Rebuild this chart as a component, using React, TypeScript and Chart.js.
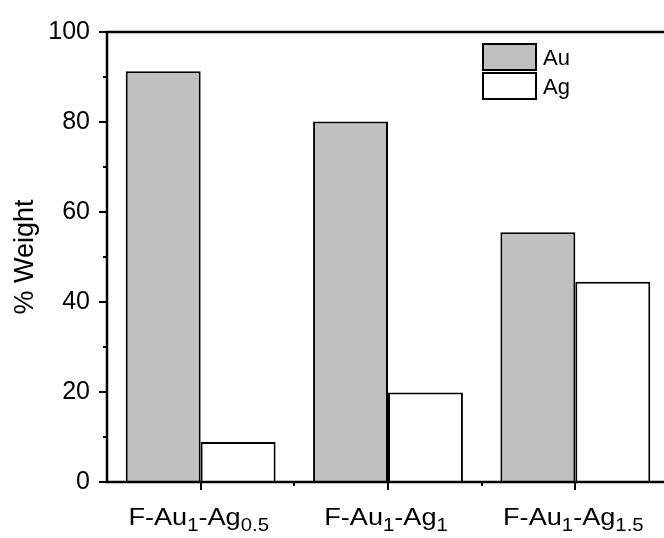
import React, { useEffect, useRef } from "react";
import { Chart, registerables } from "chart.js";

Chart.register(...registerables);

const categories = ["F-Au1-Ag0.5", "F-Au1-Ag1", "F-Au1-Ag1.5"];
const agSubscripts = ["0.5", "1", "1.5"];
const auValues = [91.3, 80.1, 55.5];
const agValues = [8.9, 19.9, 44.5];
const yMajorTicks = [0, 20, 40, 60, 80, 100];
const yMinorTicks = [10, 30, 50, 70, 90];

const FONT = "'Liberation Sans', Arial, sans-serif";

const CANVAS_W = 690;
const CANVAS_H = 538;

const framePlugin = {
  id: "frame",
  afterDatasetsDraw(chart: any) {
    const { ctx, chartArea } = chart;
    const { left, right, top, bottom } = chartArea;
    const y = chart.scales.y;
    const x = chart.scales.x;
    ctx.save();
    ctx.strokeStyle = "#000";
    ctx.lineWidth = 2.5;
    ctx.strokeRect(left, top, right - left, bottom - top);
    // y ticks
    ctx.beginPath();
    ctx.lineWidth = 2;
    yMajorTicks.forEach((v) => {
      const py = Math.round(y.getPixelForValue(v));
      ctx.moveTo(left - 8, py);
      ctx.lineTo(left, py);
    });
    yMinorTicks.forEach((v) => {
      const py = Math.round(y.getPixelForValue(v));
      ctx.moveTo(left - 4, py);
      ctx.lineTo(left, py);
    });
    // x ticks
    categories.forEach((_, i) => {
      const px = Math.round(x.getPixelForValue(i));
      ctx.moveTo(px, bottom);
      ctx.lineTo(px, bottom + 8);
      const pm = Math.round(x.getPixelForValue(i + 0.5));
      if (i < categories.length - 1) {
        ctx.moveTo(pm, bottom);
        ctx.lineTo(pm, bottom + 4);
      }
    });
    ctx.stroke();

    // x labels with subscripts
    const mainSize = 24;
    const subSize = 18;
    const stretch = 1.13;
    categories.forEach((_, i) => {
      const parts: [string, boolean][] = [
        ["F-Au", false],
        ["1", true],
        ["-Ag", false],
        [agSubscripts[i], true],
      ];
      let w = 0;
      parts.forEach(([t, sub]) => {
        ctx.font = `${sub ? subSize : mainSize}px ${FONT}`;
        w += ctx.measureText(t).width;
      });
      const cx = x.getPixelForValue(i);
      ctx.save();
      ctx.translate(cx - (w * stretch) / 2 - 2, 0);
      ctx.scale(stretch, 1);
      let tx = 0;
      ctx.fillStyle = "#000";
      ctx.textBaseline = "alphabetic";
      ctx.textAlign = "left";
      parts.forEach(([t, sub]) => {
        ctx.font = `${sub ? subSize : mainSize}px ${FONT}`;
        ctx.fillText(t, tx, sub ? 531 : 525);
        tx += ctx.measureText(t).width;
      });
      ctx.restore();
    });

    // legend
    const ds = chart.data.datasets;
    const lx = 483;
    const ly = [44, 73];
    ds.forEach((d: any, i: number) => {
      ctx.fillStyle = d.backgroundColor;
      ctx.fillRect(lx, ly[i], 53, 26);
      ctx.lineWidth = 2;
      ctx.strokeStyle = "#000";
      ctx.strokeRect(lx, ly[i], 53, 26);
      ctx.fillStyle = "#000";
      ctx.font = `22px ${FONT}`;
      ctx.textBaseline = "alphabetic";
      ctx.textAlign = "left";
      ctx.fillText(d.label, 543, ly[i] + 21);
    });
    ctx.restore();
  },
};

export default function App() {
  const ref = useRef<HTMLCanvasElement | null>(null);
  useEffect(() => {
    if (!ref.current) return;
    const chart = new Chart(ref.current, {
      type: "bar",
      data: {
        labels: categories,
        datasets: [
          {
            label: "Au",
            data: auValues,
            backgroundColor: "#c0c0c0",
            borderColor: "#000",
            borderWidth: 2,
            barPercentage: 1,
            categoryPercentage: 0.8,
          },
          {
            label: "Ag",
            data: agValues,
            backgroundColor: "#ffffff",
            borderColor: "#000",
            borderWidth: 2,
            barPercentage: 1,
            categoryPercentage: 0.8,
          },
        ],
      },
      options: {
        responsive: false,
        animation: false,
        devicePixelRatio: 1,
        layout: { padding: { left: 0, right: CANVAS_W - 669, top: 27, bottom: 0 } },
        plugins: {
          legend: { display: false },
          tooltip: { enabled: false },
        },
        scales: {
          x: {
            type: "category",
            offset: true,
            grid: { display: false, drawTicks: false },
            border: { display: false },
            ticks: { display: false },
            afterFit: (s: any) => {
              s.height = CANVAS_H - 482;
            },
          },
          y: {
            min: 0,
            max: 100,
            grid: { display: false, drawTicks: false },
            border: { display: false },
            ticks: {
              stepSize: 20,
              padding: 17,
              color: "#000",
              font: { family: FONT, size: 25 },
            },
            title: {
              display: true,
              text: "% Weight",
              color: "#000",
              font: { family: FONT, size: 27 },
              padding: { top: 9, bottom: 0 },
            },
            afterFit: (s: any) => {
              s.width = 107;
            },
          },
        },
      },
      plugins: [framePlugin],
    });
    return () => chart.destroy();
  }, []);
  return (
    <div
      style={{
        position: "fixed",
        left: 0,
        top: 0,
        width: 664,
        height: 538,
        overflow: "hidden",
        background: "#fff",
      }}
    >
      <canvas ref={ref} width={CANVAS_W} height={CANVAS_H} style={{ display: "block" }} />
    </div>
  );
}
